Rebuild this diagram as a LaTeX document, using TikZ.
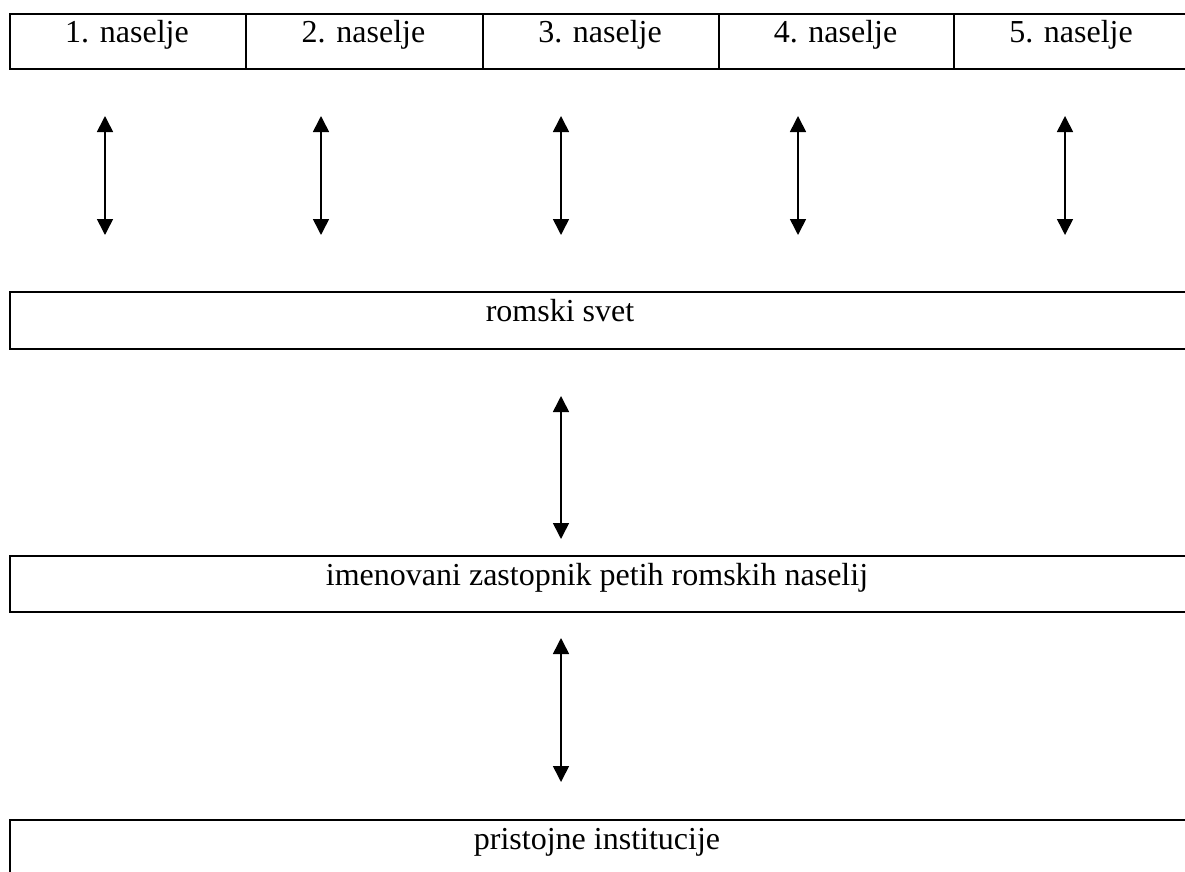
\documentclass[tikz,border=0pt]{standalone}
\usepackage{fontspec}
\setmainfont{Liberation Serif}
\usetikzlibrary{arrows.meta}
\begin{document}
\begin{tikzpicture}[x=1pt,y=-1pt,
  box/.style={draw, line width=2pt, inner sep=0pt, anchor=north west},
  lbl/.style={anchor=base, inner sep=0pt, font=\fontsize{32}{38}\selectfont},
  tip/.style={Triangle[width=16pt,length=16pt]},
  link/.style={line width=1.6pt, {Triangle[width=16pt,length=16pt]}-{Triangle[width=16pt,length=16pt]}}]
\useasboundingbox (0,0) rectangle (1185,872);
\clip (0,0) rectangle (1185,872);

% row of the five settlements
\node[box, minimum width=236pt, minimum height=55pt] (s1) at (9,13) {};
\node[box, minimum width=237pt, minimum height=55pt] (s2) at (245,13) {};
\node[box, minimum width=236pt, minimum height=55pt] (s3) at (482,13) {};
\node[box, minimum width=235pt, minimum height=55pt] (s4) at (718,13) {};
\node[box, minimum width=236pt, minimum height=55pt] (s5) at (953,13) {};
\node[lbl] (t1) at (127,43) {1. naselje};
\node[lbl] (t2) at (363.5,43) {2. naselje};
\node[lbl] (t3) at (600,43) {3. naselje};
\node[lbl] (t4) at (835.5,43) {4. naselje};
\node[lbl] (t5) at (1071,43) {5. naselje};

% council, representative, institutions
\node[box, minimum width=1180pt, minimum height=57pt] (svet) at (9,291) {};
\node[lbl] (tsvet) at (560,321) {romski svet};
\node[box, minimum width=1180pt, minimum height=56pt] (zast) at (9,555) {};
\node[lbl] (tzast) at (597,585) {imenovani zastopnik petih romskih naselij};
\node[box, minimum width=1180pt, minimum height=80pt] (inst) at (9,819) {};
\node[lbl] (tinst) at (597,849) {pristojne institucije};

% arrow end points
\foreach \i/\x in {1/105,2/321,3/561,4/798,5/1065}{
  \coordinate (u\i) at (\x,116);
  \coordinate (d\i) at (\x,235);
  \draw[link] (u\i) -- (d\i);
}
\coordinate (mu) at (561,396);
\coordinate (md) at (561,539);
\draw[link] (mu) -- (md);
\coordinate (lu) at (561,638);
\coordinate (ld) at (561,782);
\draw[link] (lu) -- (ld);
\end{tikzpicture}
\end{document}
